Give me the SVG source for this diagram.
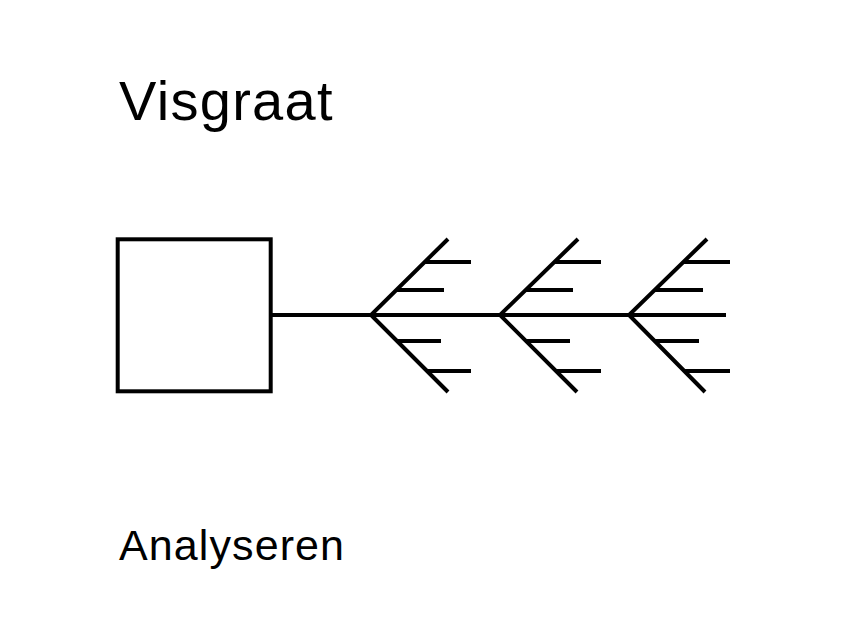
<svg xmlns="http://www.w3.org/2000/svg" width="846" height="643" viewBox="0 0 846 643">
<style>
.t{font-family:"Liberation Sans",Arial,sans-serif;fill:#000}
.s{stroke:#000;stroke-width:4;fill:none;stroke-linecap:butt}
</style>
<rect width="846" height="643" fill="#fff"/>
<g id="title"><text class="t" x="119" y="120" font-size="56" letter-spacing="1.3">Visgraat</text></g>
<g id="box"><rect class="s" x="117.7" y="239.3" width="153" height="152"/></g>
<g id="connectors">
<line class="s" x1="272" y1="315" x2="726" y2="315"/>
<g id="bone1">
<polyline class="s" points="448,239 371,315 448,392"/>
<line class="s" x1="425" y1="262" x2="471" y2="262"/>
<line class="s" x1="397" y1="290" x2="444" y2="290"/>
<line class="s" x1="396" y1="341" x2="441" y2="341"/>
<line class="s" x1="427" y1="371" x2="471" y2="371"/>
</g>
<g id="bone2">
<polyline class="s" points="578,239 500,315 577,392"/>
<line class="s" x1="554" y1="262" x2="601" y2="262"/>
<line class="s" x1="526" y1="290" x2="573" y2="290"/>
<line class="s" x1="525" y1="341" x2="570" y2="341"/>
<line class="s" x1="556" y1="371" x2="601" y2="371"/>
</g>
<g id="bone3">
<polyline class="s" points="707,239 629,315 705,392"/>
<line class="s" x1="683" y1="262" x2="730" y2="262"/>
<line class="s" x1="655" y1="290" x2="703" y2="290"/>
<line class="s" x1="654" y1="341" x2="699" y2="341"/>
<line class="s" x1="685" y1="371" x2="730" y2="371"/>
</g>
</g>
<g id="label"><text class="t" x="119" y="560" font-size="43" letter-spacing="1.1">Analyseren</text></g>
</svg>
